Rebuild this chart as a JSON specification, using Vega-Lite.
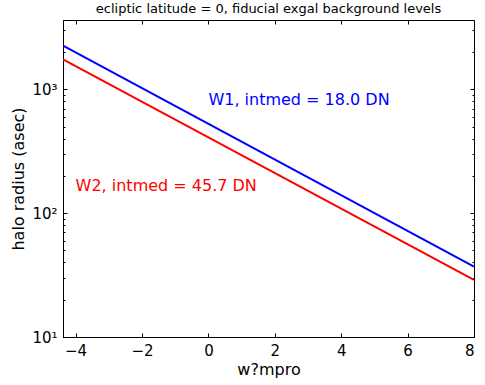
{
  "$schema": "https://vega.github.io/schema/vega-lite/v6.json",
  "width": 411,
  "height": 317,
  "autosize": "none",
  "padding": {"left": 63, "top": 20, "right": 11, "bottom": 48},
  "title": {"text": "ecliptic latitude = 0, fiducial exgal background levels", "font": "DejaVu Sans", "fontSize": 13, "fontWeight": "normal", "color": "black", "offset": 4},
  "config": {
    "view": {"stroke": "black", "strokeWidth": 1},
    "axis": {"domainColor": "black", "tickColor": "black", "labelColor": "black", "titleColor": "black", "labelFont": "DejaVu Sans", "titleFont": "DejaVu Sans", "labelFontSize": 15, "titleFontSize": 16, "titleFontWeight": "normal", "grid": false}
  },
  "datasets": {
    "lines": [
      {"w": -4.38, "r": 2250, "band": "W1"},
      {"w": 8, "r": 37, "band": "W1"},
      {"w": -4.38, "r": 1746, "band": "W2"},
      {"w": 8, "r": 28.9, "band": "W2"}
    ],
    "notes": [
      {"w": 0, "r": 750, "band": "W1", "label": "W1, intmed = 18.0 DN"},
      {"w": -4, "r": 150, "band": "W2", "label": "W2, intmed = 45.7 DN"}
    ]
  },
  "layer": [
    {
      "data": {"name": "lines"},
      "mark": {"type": "line", "strokeWidth": 2, "clip": true},
      "encoding": {
        "x": {"field": "w", "type": "quantitative", "scale": {"domain": [-4.38, 8], "nice": false, "zero": false},
          "axis": {"orient": "bottom", "title": "w?mpro", "values": [-4, -2, 0, 2, 4, 6, 8], "tickSize": -4, "labelPadding": 10, "titlePadding": 3}},
        "y": {"field": "r", "type": "quantitative", "scale": {"type": "log", "domain": [10, 3630], "nice": false},
          "axis": {"orient": "left", "title": "halo radius (asec)", "values": [10,20,30,40,50,60,70,80,90,100,200,300,400,500,600,700,800,900,1000,2000,3000],
            "labelExpr": "datum.value == 10 ? '10¹' : datum.value == 100 ? '10²' : datum.value == 1000 ? '10³' : ''",
            "tickSize": {"condition": {"test": "datum.value == 10 || datum.value == 100 || datum.value == 1000", "value": -4}, "value": -2},
            "labelPadding": 10, "titlePadding": 5}},
        "color": {"field": "band", "type": "nominal", "scale": {"domain": ["W1", "W2"], "range": ["#0000ff", "#ff0000"]}, "legend": null},
        "detail": {"field": "band"}
      }
    },
    {
      "data": {"name": "notes"},
      "mark": {"type": "text", "align": "left", "baseline": "alphabetic", "font": "DejaVu Sans", "fontSize": 16},
      "encoding": {
        "x": {"field": "w", "type": "quantitative",
          "axis": {"orient": "top", "title": null, "labels": false, "values": [-4, -2, 0, 2, 4, 6, 8], "tickSize": -4, "domain": false}},
        "y": {"field": "r", "type": "quantitative",
          "axis": {"orient": "right", "title": null, "labels": false, "values": [10,20,30,40,50,60,70,80,90,100,200,300,400,500,600,700,800,900,1000,2000,3000],
            "tickSize": {"condition": {"test": "datum.value == 10 || datum.value == 100 || datum.value == 1000", "value": -4}, "value": -2}, "domain": false}},
        "text": {"field": "label"},
        "color": {"field": "band", "type": "nominal", "legend": null}
      }
    }
  ],
  "resolve": {"axis": {"x": "independent", "y": "independent"}}
}
